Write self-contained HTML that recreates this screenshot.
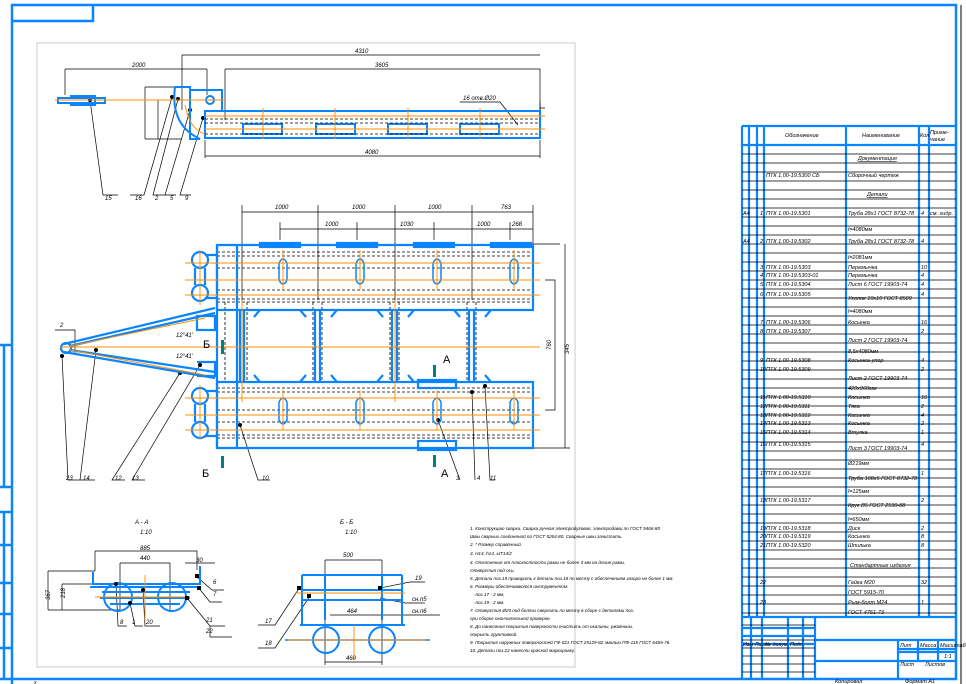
<!DOCTYPE html>
<html><head><meta charset="utf-8"><style>
html,body{margin:0;padding:0;background:#fff;}
svg{display:block;font-family:"Liberation Sans","DejaVu Sans",sans-serif;font-style:italic;}
</style></head><body>
<svg width="966" height="684" viewBox="0 0 966 684" xmlns="http://www.w3.org/2000/svg">
<rect width="966" height="684" fill="#fff"/>
<!-- outer frame -->
<g stroke="#0a84ff" stroke-width="2.5" fill="none">
<path d="M12 684 V5 H956 V679 H0"/>
<path d="M12 21 H93 V5"/>
<path d="M0 345 H12 M0 487 H12 M0 512 H12 M0 545 H12 M0 583 H12 M0 614 H12 M0 648 H12 M4 345 V487 M4 512 V679"/>
</g>
<line x1="961" y1="5" x2="961" y2="684" stroke="#000" stroke-width="1"/>
<rect x="37" y="43" width="538" height="624" fill="none" stroke="#ccc" stroke-width="1"/>

<!-- ===== Side view ===== -->
<g stroke="#000" stroke-width="0.7" fill="none">
<path d="M182 55 V110 M182 55 H540 M225 69 H540 V110 M225 69 V120 M65 69 H207 M65 69 V95 M207 69 V95 M205 156 H540 M205 140 V158 M540 140 V158"/>
<path d="M145 87 H182 M145 139 H182 M145 87 V139 M158 100 V139 M540 102 V124 M540 108 H545"/>
<path d="M90 100 L103 195 H118 M172 97 L144 195 H130 M178 99 L153 195 H165 M190 110 L165 195 H176 M203 118 L180 195 H191"/>
<path d="M460 102 H500 L518 125"/>
</g>
<g fill="#000"><circle cx="90" cy="100" r="2"/><circle cx="172" cy="97" r="2"/><circle cx="178" cy="99" r="2"/><circle cx="190" cy="110" r="2"/><circle cx="203" cy="118" r="2"/></g>
<g stroke="#0a84ff" stroke-width="2" fill="none">
<path d="M58 98 H105 V103 H58 Z"/>
<path d="M70 96 H95 V105 H70"/>
<path d="M175 87 H190 V139 H200 M175 87 Q170 125 200 139"/>
<path d="M190 90 H222 V112"/>
<rect x="205" y="111" width="335" height="27"/>
<rect x="243" y="124" width="39" height="10"/><rect x="316" y="124" width="39" height="10"/><rect x="388" y="124" width="39" height="10"/><rect x="460" y="124" width="39" height="10"/>
<circle cx="210" cy="100" r="4"/>
</g>
<g stroke="#000" stroke-width="0.8" stroke-dasharray="3,2" fill="none"><path d="M205 119 H540 M205 123 H540 M205 134 H540"/></g>
<g stroke="#ff8c00" stroke-width="0.9" fill="none"><path d="M55 100 H225 M205 116 H545 M205 129 H545 M263 108 V139 M335 108 V139 M408 108 V139 M480 108 V139 M185 105 Q190 130 205 134"/></g>
<g font-size="6" fill="#000">
<text x="355" y="53">4310</text><text x="375" y="67">3605</text><text x="132" y="67">2000</text><text x="365" y="154">4080</text>
<text x="463" y="100">16 отв.Ø20</text><text x="105" y="200">15</text><text x="135" y="200">16</text><text x="155" y="200">2</text><text x="170" y="200">5</text><text x="185" y="200">9</text>
</g>

<!-- ===== Plan view ===== -->
<g stroke="#000" stroke-width="0.7" fill="none">
<path d="M242 212 H533 M242 205 V300 M318 205 V300 M395 205 V300 M472 205 V300 M533 205 V245 M280 229 H533 M280 222 V240 M357 222 V240 M434 222 V240 M510 222 V240"/>
<path d="M533 244 H560 M533 448 H570 M545 280 H555 V410 H545 M565 244 V448"/>
<path d="M240 425 L258 480 H270 M438 420 L460 480 M472 392 L475 480 M485 386 L490 480 H495"/>
<path d="M62 356 L68 480 H80 M96 350 L80 480 H95 M180 373 L112 480 H125 M200 365 L132 480 H145"/>
<path d="M55 330 H75 V355"/>
</g>
<g fill="#000"><circle cx="240" cy="425" r="2"/><circle cx="438" cy="420" r="2"/><circle cx="472" cy="392" r="2"/><circle cx="485" cy="386" r="2"/><circle cx="62" cy="356" r="2"/><circle cx="96" cy="350" r="2"/><circle cx="180" cy="373" r="2"/><circle cx="200" cy="365" r="2"/></g>
<g stroke="#000" stroke-width="0.8" stroke-dasharray="3,2" fill="none">
<path d="M217 252 H533 M217 256 H533 M217 268 H533 M217 280 H533 M217 290 H533 M217 299 H533 M217 302 H533"/>
<path d="M217 388 H533 M217 392 H533 M217 410 H533 M217 422 H533 M217 435 H533 M217 438 H533"/>
<path d="M225 302 V382 M247 302 V382 M313 302 V382 M322 302 V382 M390 302 V382 M399 302 V382 M467 302 V382 M476 302 V382"/>
</g>
<g stroke="#0a84ff" stroke-width="2.2" fill="none">
<path d="M217 245 H533 V310 H217 Z"/>
<path d="M217 382 H533 V448 H217 Z"/>
<path d="M217 245 V448 M237 245 V448"/>
<path d="M240 310 V382 M244 310 V382 M315 310 V382 M320 310 V382 M392 310 V382 M397 310 V382 M469 310 V382 M474 310 V382"/>
<path d="M260 310 L254 317 M300 310 L306 317 M337 310 L331 317 M377 310 L383 317 M414 310 L408 317 M454 310 L460 317 M491 310 L485 317"/>
<path d="M260 382 L254 375 M300 382 L306 375 M337 382 L331 375 M377 382 L383 375 M414 382 L408 375 M491 382 L485 375"/>
<rect x="260" y="243" width="40" height="4"/><rect x="337" y="243" width="40" height="4"/><rect x="414" y="243" width="40" height="4"/><rect x="491" y="243" width="40" height="4"/>
<rect x="418" y="380" width="38" height="8"/><rect x="418" y="441" width="38" height="9"/>
<circle cx="200" cy="260" r="8"/><circle cx="200" cy="293" r="8"/><circle cx="200" cy="396" r="8"/><circle cx="200" cy="430" r="8"/>
<path d="M195 268 V285 M205 268 V285 M195 404 V422 M205 404 V422 M205 255 H217 M205 298 H217 M205 391 H217 M205 436 H217"/>
<path d="M64 344 L215 308 M64 352 L215 378 M70 346 L215 313 M70 350 L215 372"/>
<circle cx="66" cy="348" r="5"/>
<path d="M197 316 H215 V330 H197 Z M197 362 H215 V376 H197"/>
</g>
<g stroke="#0a84ff" stroke-width="1.5" fill="none">
<path d="M279 263 Q283 255 287 263 V280 Q283 288 279 280 Z M356 263 Q360 255 364 263 V280 Q360 288 356 280 Z M433 263 Q437 255 441 263 V280 Q437 288 433 280 Z M510 263 Q514 255 518 263 V280 Q514 288 510 280 Z"/>
<path d="M279 402 Q283 394 287 402 V420 Q283 428 279 420 Z M356 402 Q360 394 364 402 V420 Q360 428 356 420 Z M433 402 Q437 394 441 402 V420 Q437 428 433 420 Z M510 402 Q514 394 518 402 V420 Q514 428 510 420 Z"/>
</g>
<g stroke="#ff8c00" stroke-width="0.9" fill="none">
<path d="M185 263 H540 M185 280 H540 M185 295 H540 M185 398 H540 M185 415 H540 M185 430 H540 M60 347 H540"/>
<path d="M242 300 V402 M395 300 V402 M200 250 V305 M200 385 V440 M283 250 V290 M360 250 V290 M437 250 V290 M514 250 V290 M283 390 V430 M360 390 V430 M437 390 V430 M514 390 V430"/>
<path d="M70 346 L205 318 M70 350 L205 375"/>
</g>
<g fill="#008080"><rect x="221" y="340" width="3" height="14"/><rect x="433" y="365" width="3" height="12"/><rect x="433" y="455" width="3" height="12"/><rect x="221" y="456" width="3" height="12"/></g>
<g font-size="6" fill="#000">
<text x="275" y="209">1000</text><text x="352" y="209">1000</text><text x="428" y="209">1000</text><text x="501" y="209">763</text>
<text x="325" y="226">1000</text><text x="400" y="226">1030</text><text x="477" y="226">1000</text><text x="512" y="226">268</text>
<text x="176" y="337">12°41'</text><text x="176" y="358">12°41'</text><text x="60" y="327">2</text>
<text x="66" y="480">23</text><text x="83" y="480">14</text><text x="115" y="480">12</text><text x="132" y="480">13</text>
<text x="262" y="480">10</text><text x="456" y="480">3</text><text x="477" y="480">4</text><text x="490" y="480">11</text>
<text transform="translate(551 350) rotate(-90)">760</text><text transform="translate(569 354) rotate(-90)">345</text>
</g>
<g font-size="11" font-style="normal" fill="#000"><text x="203" y="348">Б</text><text x="443" y="363">А</text><text x="441" y="477">А</text><text x="202" y="477">Б</text></g>

<!-- ===== Section A-A ===== -->
<g font-size="6" fill="#000"><text x="135" y="524">А - А</text><text x="140" y="534">1:10</text><text x="140" y="550">885</text><text x="140" y="560">440</text><text x="196" y="562">30</text><text x="50" y="600" transform="rotate(-90 50 600)">367</text><text x="65" y="598" transform="rotate(-90 65 598)">218</text>
<text x="120" y="624">8</text><text x="132" y="624">1</text><text x="146" y="624">20</text><text x="206" y="622">21</text><text x="206" y="633">22</text><text x="213" y="584">6</text><text x="213" y="596">7</text></g>
<g stroke="#000" stroke-width="0.7" fill="none">
<path d="M95 551 H197 V570 M95 551 V571 M120 563 H170 V612 M120 563 V610 M185 563 H215 M48 571 H95 M48 571 V610 M48 610 H120 M62 584 H115 M62 584 V610"/>
<path d="M116 584 L118 626 H127 M130 603 L135 626 H143 M143 590 L145 626 H160 M187 598 L210 626 H225 M197 577 L212 590 H224 M198 587 L210 602 H222 M210 626 V637 H232"/>
</g>
<g stroke="#0a84ff" stroke-width="2" fill="none">
<path d="M93 572 V584 H200 V566 M90 587 H200"/>
<circle cx="118" cy="597" r="14"/><circle cx="172" cy="597" r="14"/>
<path d="M100 598 H190 M102 592 H190 M110 604 H180"/>
</g>
<path d="M95 597 H190 M145 575 V620" stroke="#ff8c00" stroke-width="0.9"/>
<g fill="#000"><circle cx="116" cy="584" r="2"/><circle cx="130" cy="603" r="2"/><circle cx="143" cy="590" r="2"/><rect x="185" y="596" width="4" height="4"/><rect x="195" y="574" width="4" height="4"/><rect x="197" y="586" width="4" height="4"/></g>

<!-- ===== Section Б-Б ===== -->
<g font-size="6" fill="#000"><text x="340" y="524">Б - Б</text><text x="345" y="534">1:10</text><text x="343" y="557">500</text><text x="347" y="613">464</text><text x="346" y="660">460</text>
<text x="415" y="580">19</text><text x="412" y="601">сн.п5</text><text x="412" y="613">сн.п6</text><text x="265" y="623">17</text><text x="265" y="645">18</text></g>
<g stroke="#000" stroke-width="0.7" fill="none">
<path d="M325 560 V665 M382 560 V665 M325 560 H382 M325 662 H382 M330 615 H382 H440 M380 588 L410 582 H425 M380 598 L405 603 H425 M300 587 L275 625 H258 M310 596 L275 648 H258"/>
</g>
<g stroke="#0a84ff" stroke-width="2" fill="none">
<path d="M302 575 H402 M302 575 V625 M302 590 H402 M302 600 H402 M402 575 V625 M300 625 H405"/>
<path d="M325 575 V620 M382 575 V620"/>
<circle cx="326" cy="640" r="13"/><circle cx="382" cy="640" r="13"/>
<path d="M285 640 H430" stroke-width="1.5"/>
</g>
<path d="M295 593 H405 M288 640 H425 M354 625 V660" stroke="#ff8c00" stroke-width="0.9"/>
<g fill="#000"><rect x="297" y="586" width="4" height="4"/><rect x="307" y="594" width="4" height="4"/><rect x="378" y="586" width="4" height="4"/></g>

<!-- ===== Notes ===== -->
<g font-size="4.6" fill="#000">
<text x="470" y="530">1. Конструкцию сварки. Сварка ручная электродуговая, электродами по ГОСТ 9466-80</text>
<text x="470" y="538">Швы сварных соединений по ГОСТ 5264-80. Сварные швы зачистить.</text>
<text x="470" y="546">2. * Размер справочный.</text>
<text x="470" y="555">3. Н14, h14, ±IT14/2</text>
<text x="470" y="564">4. Отклонение от плоскостности рамы не более 3 мм на длине рамы.</text>
<text x="470" y="572">Отверстия под оси.</text>
<text x="470" y="580">5. Детали поз.19 приварить к детали поз.18 по месту с обеспечением зазора не более 1 мм.</text>
<text x="470" y="588">6. Размеры обеспечиваются инструментом:</text>
<text x="474" y="596">-поз.17 - 2 мм,</text>
<text x="474" y="604">-поз.19 - 2 мм.</text>
<text x="470" y="612">7. Отверстия Ø20 под болты сверлить по месту в сборе с деталями поз.</text>
<text x="470" y="620">при сборке окончательной проверке.</text>
<text x="470" y="628">8. До нанесения покрытия поверхности очистить от окалины, ржавчины.</text>
<text x="470" y="636">покрыть грунтовкой.</text>
<text x="470" y="644">9. Покрытие наружных поверхностей ГФ-021 ГОСТ 25129-82 эмалью ПФ-115 ГОСТ 6465-76.</text>
<text x="470" y="652">10. Детали поз.22 нанести краской маркировку.</text>
</g>

<!-- ===== Specification table ===== -->
<g stroke="#0a84ff" stroke-width="2.2" fill="none">
<path d="M742 126 H956 M742 145 H956 M742 126 V617 M749 126 V617 M757 126 V617 M764 126 V617 M846 126 V617 M919 126 V617 M929 126 V617"/>
<path d="M742 617 H956 M742 617 V679 M815 617 V679 M742 628 H815 M742 636 H815 M742 644 H815 M815 640 H956 M815 661 H956 M898 640 V679 M898 652 H956 M898 649 H956 M918 640 V661 M938 640 V661 M751 617 V679 M762 617 V679 M788 617 V679 M803 617 V679"/>
</g>
<g stroke="#000" stroke-width="0.8">
<path d="M742 154 H956 M742 163 H956 M742 172 H956 M742 181 H956 M742 190 H956 M742 199 H956 M742 208 H956 M742 217 H956 M742 226 H956 M742 235 H956 M742 244 H956 M742 253 H956 M742 262 H956 M742 271 H956 M742 280 H956 M742 289 H956 M742 298 H956 M742 307 H956 M742 316 H956 M742 325 H956 M742 334 H956 M742 343 H956 M742 352 H956 M742 361 H956 M742 370 H956 M742 379 H956 M742 388 H956 M742 397 H956 M742 406 H956 M742 415 H956 M742 424 H956 M742 433 H956 M742 442 H956 M742 451 H956 M742 460 H956 M742 469 H956 M742 478 H956 M742 487 H956 M742 496 H956 M742 505 H956 M742 514 H956 M742 523 H956 M742 532 H956 M742 541 H956 M742 550 H956 M742 559 H956 M742 568 H956 M742 577 H956 M742 586 H956 M742 595 H956 M742 604 H956 M742 613 H956"/>
<path d="M742 625 H815 M742 640 H815 M742 648 H815 M742 656 H815 M742 664 H815 M742 672 H815"/>
</g>
<g font-size="5.5" fill="#000">
<text x="785" y="137">Обозначение</text><text x="862" y="137">Наименование</text><text x="930" y="134">Приме-</text><text x="930" y="141">чание</text><text x="920" y="137">Кол</text>
<text x="858" y="160" text-decoration="underline">Документация</text>
<text x="766" y="177">ПТК 1.00-19.5300 СБ</text><text x="848" y="177">Сборочный чертеж</text>
<text x="867" y="196" text-decoration="underline">Детали</text>
<text x="743" y="215">А4</text><text x="760" y="215">1</text><text x="766" y="215">ПТК 1.00-19.5301</text><text x="848" y="215">Труба 28х1 ГОСТ 8732-78</text><text x="921" y="215">4</text><text x="930" y="215">см. гидр.</text>
<text x="848" y="231">l=4080мм</text>
<text x="743" y="243">А4</text><text x="760" y="243">2</text><text x="766" y="243">ПТК 1.00-19.5302</text><text x="848" y="243">Труба 28х1 ГОСТ 8732-78</text><text x="921" y="243">4</text>
<text x="848" y="259">l=2081мм</text>
<text x="760" y="269">3</text><text x="766" y="269">ПТК 1.00-19.5303</text><text x="848" y="269">Перемычка</text><text x="921" y="269">10</text>
<text x="760" y="277">4</text><text x="766" y="277">ПТК 1.00-19.5303-01</text><text x="848" y="277">Перемычка</text><text x="921" y="277">4</text>
<text x="760" y="286">5</text><text x="766" y="286">ПТК 1.00-19.5304</text><text x="848" y="286">Лист 6 ГОСТ 19903-74</text><text x="921" y="286">4</text>
<text x="760" y="296">6</text><text x="766" y="296">ПТК 1.00-19.5305</text><text x="848" y="300">Уголок 10х10 ГОСТ 8509</text><text x="921" y="296">4</text>
<text x="848" y="313">l=4080мм</text>
<text x="760" y="324">7</text><text x="766" y="324">ПТК 1.00-19.5306</text><text x="848" y="324">Косынка</text><text x="921" y="324">16</text>
<text x="760" y="333">8</text><text x="766" y="333">ПТК 1.00-19.5307</text><text x="848" y="342">Лист 2 ГОСТ 19903-74</text><text x="921" y="333">2</text>
<text x="848" y="353">8,5х4080мм</text>
<text x="760" y="362">9</text><text x="766" y="362">ПТК 1.00-19.5308</text><text x="848" y="362">Косынка-упор</text><text x="921" y="362">4</text>
<text x="760" y="371">10</text><text x="766" y="371">ПТК 1.00-19.5309</text><text x="848" y="380">Лист 2 ГОСТ 19903-74</text><text x="921" y="371">2</text>
<text x="848" y="390">420х960мм</text>
<text x="760" y="399">11</text><text x="766" y="399">ПТК 1.00-19.5310</text><text x="848" y="399">Косынка</text><text x="921" y="399">16</text>
<text x="760" y="408">12</text><text x="766" y="408">ПТК 1.00-19.5311</text><text x="848" y="408">Тяга</text><text x="921" y="408">2</text>
<text x="760" y="417">13</text><text x="766" y="417">ПТК 1.00-19.5312</text><text x="848" y="417">Косынка</text><text x="921" y="417">4</text>
<text x="760" y="425">14</text><text x="766" y="425">ПТК 1.00-19.5313</text><text x="848" y="425">Косынка</text><text x="921" y="425">2</text>
<text x="760" y="434">15</text><text x="766" y="434">ПТК 1.00-19.5314</text><text x="848" y="434">Втулка</text><text x="921" y="434">1</text>
<text x="760" y="446">16</text><text x="766" y="446">ПТК 1.00-19.5315</text><text x="848" y="450">Лист 3 ГОСТ 19903-74</text><text x="921" y="446">4</text>
<text x="848" y="465">Ø219мм</text>
<text x="760" y="475">17</text><text x="766" y="475">ПТК 1.00-19.5316</text><text x="848" y="480">Труба 108х5 ГОСТ 8732-78</text><text x="921" y="475">1</text>
<text x="848" y="493">l=125мм</text>
<text x="760" y="502">18</text><text x="766" y="502">ПТК 1.00-19.5317</text><text x="848" y="507">Круг В5 ГОСТ 2590-88</text><text x="921" y="502">2</text>
<text x="848" y="521">l=650мм</text>
<text x="760" y="530">19</text><text x="766" y="530">ПТК 1.00-19.5318</text><text x="848" y="530">Диск</text><text x="921" y="530">2</text>
<text x="760" y="538">20</text><text x="766" y="538">ПТК 1.00-19.5319</text><text x="848" y="538">Косынка</text><text x="921" y="538">8</text>
<text x="760" y="547">21</text><text x="766" y="547">ПТК 1.00-19.5320</text><text x="848" y="547">Шпилька</text><text x="921" y="547">8</text>
<text x="850" y="567" text-decoration="underline">Стандартные изделия</text>
<text x="760" y="584">22</text><text x="848" y="584">Гайка М20</text><text x="921" y="584">32</text>
<text x="848" y="594">ГОСТ 5915-70</text>
<text x="760" y="604">23</text><text x="848" y="604">Рым-болт М24</text><text x="921" y="604">1</text>
<text x="848" y="614">ГОСТ 4751-73</text>
<text x="900" y="647">Лит</text><text x="920" y="647">Масса</text><text x="940" y="647">Масштаб</text><text x="944" y="658">1:1</text>
<text x="743" y="646">Изм Лист</text><text x="765" y="646">№ докум.</text><text x="790" y="646">Подп.</text><text x="900" y="666">Лист</text><text x="925" y="666">Листов</text>
<text x="835" y="683">Копировал</text><text x="905" y="683">Формат А1</text>
</g>
<g font-size="5" fill="#000"><text x="34" y="684">x</text></g>
</svg>
</body></html>
